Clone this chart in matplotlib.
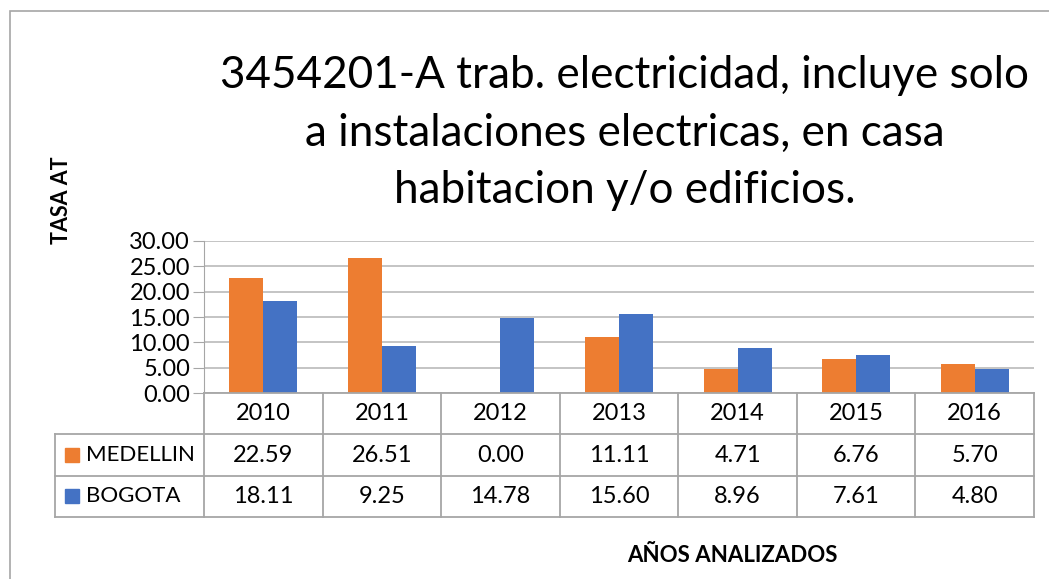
import matplotlib
matplotlib.use("Agg")
import matplotlib.pyplot as plt
import numpy as np

years = ["2010", "2011", "2012", "2013", "2014", "2015", "2016"]
series_names = ["MEDELLIN", "BOGOTA"]
medellin = [22.59, 26.51, 0.00, 11.11, 4.71, 6.76, 5.70]
bogota = [18.11, 9.25, 14.78, 15.60, 8.96, 7.61, 4.80]
yticks = [0, 5, 10, 15, 20, 25, 30]

title = "3454201-A trab. electricidad, incluye solo\na instalaciones electricas, en casa\nhabitacion y/o edificios."

ORANGE = "#ED7D31"
BLUE = "#4472C4"
GRID = "#BFBFBF"
LINE = "#A6A6A6"

plt.rcParams['font.family'] = ['Lato', 'DejaVu Sans']

W, H = 1049, 579
fig = plt.figure(figsize=(W / 100, H / 100), dpi=100)

def px_axes(x0, y0, x1, y1):
    # pixel box (top-left origin) -> figure axes
    return fig.add_axes([x0 / W, 1 - y1 / H, (x1 - x0) / W, (y1 - y0) / H])

# outer chart border
border = plt.Rectangle((10 / W, -0.05), 1.2, 1 - 11 / H + 0.05, transform=fig.transFigure,
                       fill=False, edgecolor=LINE, linewidth=1.2)
fig.patches.append(border)

left, right, top, bottom = 204, 1034, 240.7, 393.3
ax = px_axes(left, top, right, bottom)

x = np.arange(len(years))
bw = 0.287
ax.bar(x - bw / 2, medellin, bw, color=ORANGE, zorder=3)
ax.bar(x + bw / 2, bogota, bw, color=BLUE, zorder=3)

ax.set_xlim(-0.5, len(years) - 0.5)
ax.set_ylim(0, 30)
ax.set_yticks(yticks)
ax.set_yticklabels(["%.2f" % v for v in yticks], fontsize=17)
ax.set_xticks([])
ax.yaxis.grid(True, color=GRID, linewidth=1.3, zorder=0)
for s in ["top", "right", "bottom"]:
    ax.spines[s].set_visible(False)
ax.spines["left"].set_color(LINE)
ax.tick_params(axis="y", length=8, color=LINE, pad=2)

# data table
tleft, tbottom = 55, 516.7
ppu = (right - left) / len(years)
tab = px_axes(tleft, bottom, right, tbottom)
tab.set_xlim(-0.5 - (left - tleft) / ppu, len(years) - 0.5)
tab.set_ylim(0, 3)
tab.axis("off")
xl = -0.5 - (left - tleft) / ppu
lk = dict(color=LINE, linewidth=1.3, clip_on=False)
tab.plot([-0.5, len(years) - 0.5], [3, 3], **lk)
tab.plot([xl, len(years) - 0.5], [2, 2], **lk)
tab.plot([xl, len(years) - 0.5], [1, 1], **lk)
tab.plot([xl, len(years) - 0.5], [0, 0], **lk)
tab.plot([xl, xl], [0, 2], **lk)
for i in range(len(years) + 1):
    tab.plot([i - 0.5, i - 0.5], [0, 3], **lk)

for i, yr in enumerate(years):
    tab.text(i, 2.5, yr, ha="center", va="center", fontsize=17)
for row, (name, vals, col) in enumerate(zip(series_names, [medellin, bogota], [ORANGE, BLUE])):
    yc = 1.5 - row
    for i, v in enumerate(vals):
        tab.text(i, yc, "%.2f" % v, ha="center", va="center", fontsize=17)
    tab.add_patch(plt.Rectangle((xl + 10 / ppu, yc - 0.17), 14 / ppu, 0.34, color=col, clip_on=False))
    tab.text(xl + 31 / ppu, yc, name, ha="left", va="center", fontsize=16)

fig.text(625 / W, 1 - 133 / H, title, ha="center", va="center", fontsize=31.7,
         linespacing=1.5)
fig.text(62 / W, 1 - 200 / H, "TASA AT", rotation=90, ha="center", va="center",
         fontsize=15.5, fontweight="bold")
fig.text(732 / W, 1 - 556 / H, "AÑOS ANALIZADOS", ha="center", va="center",
         fontsize=16, fontweight="bold")

fig.savefig("out.png", dpi=100)
